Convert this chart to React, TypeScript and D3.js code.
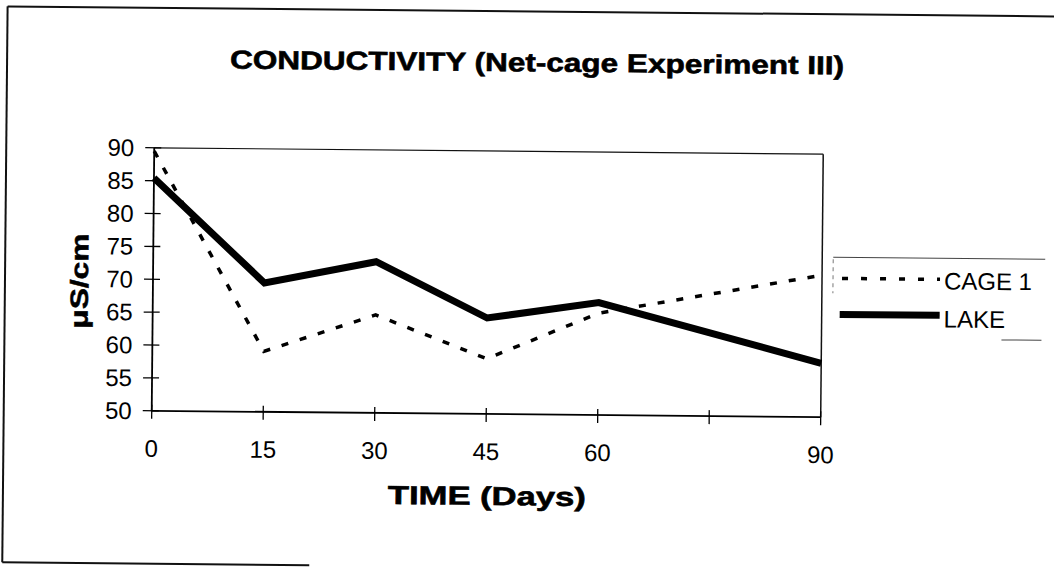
import React from 'react';
import * as d3 from 'd3';

const days = [0, 15, 30, 45, 60, 90];
const cage1 = [89.5, 59.2, 64.9, 58.4, 65.5, 71.6];
const lake = [85.4, 69.6, 73.0, 64.6, 67.1, 58.2];
const xTicks = [0, 15, 30, 45, 60, 75, 90];
const xTickLabels = ['0', '15', '30', '45', '60', '', '90'];
const yTicks = [50, 55, 60, 65, 70, 75, 80, 85, 90];
const seriesNames = ['CAGE 1', 'LAKE'];
const title = 'CONDUCTIVITY (Net-cage Experiment III)';
const xTitle = 'TIME (Days)';
const yTitle = 'μS/cm';

const FONT = '"Liberation Sans", Arial, Helvetica, sans-serif';

export default function App() {
  const W = 1054;
  const H = 573;
  const left = 153;
  const right = 822;
  const top = 151;
  const bottom = 414;
  const x = d3.scaleLinear().domain([0, 90]).range([left, right]);
  const y = d3.scaleLinear().domain([50, 90]).range([bottom, top]);
  const line = d3
    .line<number>()
    .x((_, i) => x(days[i]))
    .y((d) => y(d));

  return (
    <svg
      width={W}
      height={H}
      style={{ position: 'absolute', left: 0, top: 0, background: '#fff' }}
      fontFamily={FONT}
    >
      <rect x={0} y={0} width={W} height={H} fill="#fff" />
      <g transform="rotate(0.55 488 280)">
        {/* outer frame */}
        <line x1={5} y1={11} x2={1070} y2={11} stroke="#111" strokeWidth={2} />
        <line x1={5} y1={11} x2={5} y2={567} stroke="#111" strokeWidth={2} />
        <line x1={5} y1={567} x2={312} y2={567} stroke="#111" strokeWidth={2} />

        {/* title */}
        <text
          x={535}
          y={71}
          textAnchor="middle"
          fontSize={26}
          fontWeight="bold"
          textLength={614}
          lengthAdjust="spacingAndGlyphs"
          fill="#000"
          stroke="#000"
          strokeWidth={0.6}
        >
          {title}
        </text>

        {/* plot frame */}
        <line x1={left} y1={top} x2={right} y2={top} stroke="#111" strokeWidth={1.2} />
        <line x1={right} y1={top} x2={right} y2={bottom} stroke="#111" strokeWidth={1.5} />
        <line x1={left} y1={top} x2={left} y2={bottom} stroke="#000" strokeWidth={1.8} />
        <line x1={left} y1={bottom} x2={right} y2={bottom} stroke="#000" strokeWidth={1.8} />

        {/* y ticks */}
        {yTicks.map((t) => (
          <g key={'y' + t}>
            <line x1={left - 9} x2={left + 7} y1={y(t)} y2={y(t)} stroke="#000" strokeWidth={1.3} />
            <text x={133} y={y(t) + 8.5} textAnchor="end" fontSize={24} fill="#000">
              {t}
            </text>
          </g>
        ))}

        {/* x ticks */}
        {xTicks.map((t, i) => (
          <g key={'x' + t}>
            <line x1={x(t)} x2={x(t)} y1={bottom - 6} y2={bottom + 8} stroke="#000" strokeWidth={1.3} />
            <text x={x(t)} y={460} textAnchor="middle" fontSize={24} fill="#000">
              {xTickLabels[i]}
            </text>
          </g>
        ))}

        {/* axis titles */}
        <text
          x={489}
          y={505}
          textAnchor="middle"
          fontSize={26}
          fontWeight="bold"
          textLength={198}
          lengthAdjust="spacingAndGlyphs"
          fill="#000"
          stroke="#000"
          strokeWidth={0.6}
        >
          {xTitle}
        </text>
        <text
          transform={`translate(88 285) rotate(-90)`}
          textAnchor="middle"
          fontSize={25}
          fontWeight="bold"
          textLength={95}
          lengthAdjust="spacingAndGlyphs"
          fill="#000"
          stroke="#000"
          strokeWidth={0.5}
        >
          {yTitle}
        </text>

        {/* series */}
        <path
          d={line(cage1) || ''}
          fill="none"
          stroke="#000"
          strokeWidth={3.5}
          strokeDasharray="7 12"
        />
        <path
          d={line(lake) || ''}
          fill="none"
          stroke="#000"
          strokeWidth={7}
          strokeLinejoin="miter"
        />

        {/* legend */}
        <line x1={833} y1={254} x2={1045} y2={254} stroke="#444" strokeWidth={1} />
        <line x1={833} y1={256} x2={833} y2={290} stroke="#777" strokeWidth={1} strokeDasharray="4 4" />
        <line x1={1002} y1={335} x2={1042} y2={335} stroke="#444" strokeWidth={1} />
        <line
          x1={842}
          x2={940}
          y1={275}
          y2={275}
          stroke="#000"
          strokeWidth={3.5}
          strokeDasharray="6 13"
        />
        <text x={944} y={285} fontSize={24} fill="#000">
          {seriesNames[0]}
        </text>
        <line x1={840} x2={940} y1={311} y2={311} stroke="#000" strokeWidth={7} />
        <text x={944} y={323} fontSize={24} fill="#000">
          {seriesNames[1]}
        </text>
      </g>
    </svg>
  );
}
